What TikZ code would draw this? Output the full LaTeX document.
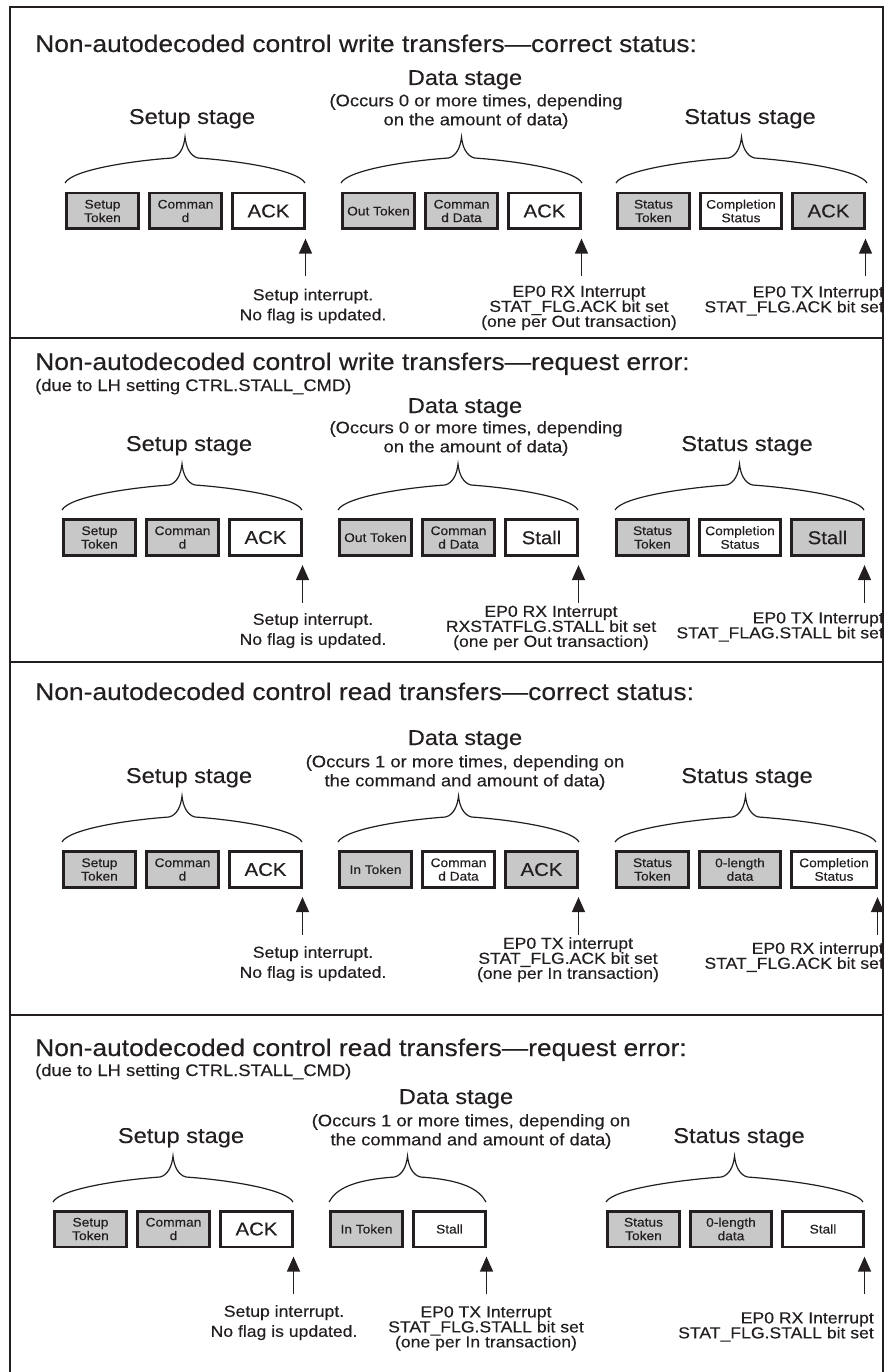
\documentclass[tikz,border=0pt]{standalone}
\usepackage{fontspec}
\setmainfont{Liberation Sans}[FakeStretch=1.1,FakeBold=0.3]
\usetikzlibrary{calc,positioning,arrows.meta}
\definecolor{ink}{RGB}{35,31,32}
\definecolor{boxgray}{RGB}{200,200,200}
\newcommand{\setfs}[2]{\fontsize{#1pt}{#2pt}\selectfont}
% curly bracket over one stage: left x, right x, y of the ends
\newcommand{\stagebrace}[3]{%
  \pgfmathsetmacro{\bcx}{(#1+#2)/2}%
  \path[brc] (#1,#3) .. controls (#1+7,#3-13) and (\bcx-55,#3-22) .. (\bcx-13,#3-25)
    .. controls (\bcx-5,#3-27) and (\bcx-1,#3-36) .. (\bcx,#3-46)
    .. controls (\bcx+1,#3-36) and (\bcx+5,#3-27) .. (\bcx+13,#3-25)
    .. controls (\bcx+55,#3-22) and (#2-7,#3-13) .. (#2,#3);}

\begin{document}
\begin{tikzpicture}[x=1pt,y=-1pt,
    every node/.style={text=ink,inner sep=0pt},
    ttl/.style={anchor=base west,font=\setfs{24}{26}},
    sub/.style={anchor=base west,font=\setfs{16.7}{19}},
    stage/.style={anchor=base,font=\setfs{21.5}{24}},
    occ/.style={anchor=north,align=center,font=\setfs{16.7}{19}},
    lab/.style={anchor=north,align=center,font=\setfs{16}{15}},
    labs/.style={lab,font=\setfs{16}{20}},
    labr/.style={anchor=north east,align=right,font=\setfs{16}{15}},
    box/.style={draw=ink,line width=2.6pt,minimum width=72.4pt,minimum height=35.6pt,
      inner sep=1pt,align=center,font=\setfs{12.5}{13.5}},
    gbox/.style={box,fill=boxgray},
    wbox/.style={box,fill=white},
    wide/.style={minimum width=81.4pt},
    big/.style={font=\setfs{18.5}{19}},
    brc/.style={draw=ink,line width=1.2pt},
    arr/.style={draw=ink,line width=1.5pt,-{Triangle[width=13pt,length=15pt]},shorten >=8.5pt},
    frame/.style={draw=ink,line width=2.8pt}]

\useasboundingbox (0,0) rectangle (886,1372);

\begin{scope}
\clip (10,7) rectangle (883,1372);

%% write transfers, correct status
\node[ttl] (p1t) at (35,52) {Non-autodecoded control write transfers—correct status:};
\node[stage] (p1s) at (192,124) {Setup stage};
\node[stage] (p1d) at (465,85) {Data stage};
\node[occ] (p1o) at (476,94) {(Occurs 0 or more times, depending\\on the amount of data)};
\node[stage] (p1z) at (750,124) {Status stage};
\stagebrace{65}{305}{183}
\stagebrace{341}{582}{183}
\stagebrace{616}{867}{183}
\node[gbox,anchor=west] (p1n1) at (65,211) {Setup\\Token};
\node[gbox,right=8pt of p1n1] (p1n2) {Comman\\d};
\node[wbox,big,right=8pt of p1n2] (p1n3) {ACK};
\node[gbox,anchor=west] (p1n4) at (341,211) {Out Token};
\node[gbox,right=8pt of p1n4] (p1n5) {Comman\\d Data};
\node[wbox,big,right=8pt of p1n5] (p1n6) {ACK};
\node[gbox,anchor=west] (p1n7) at (616,211) {Status\\Token};
\node[wbox,wide,right=8pt of p1n7] (p1n8) {Completion\\Status};
\node[gbox,big,right=8pt of p1n8] (p1n9) {ACK};
\node[labs] (p1l1) at (313,288.5) {Setup interrupt.\\No flag is updated.};
\node[lab] (p1l2) at (579,285.5) {EP0 RX Interrupt\\STAT\_FLG.ACK bit set\\(one per Out transaction)};
\node[labr] (p1l3) at (884,286) {EP0 TX Interrupt\\STAT\_FLG.ACK bit set};

%% write transfers, request error
\node[ttl] (p2t) at (35,370) {Non-autodecoded control write transfers—request error:};
\node[sub] (p2u) at (35,391) {(due to LH setting CTRL.STALL\_CMD)};
\node[stage] (p2s) at (189,451) {Setup stage};
\node[stage] (p2d) at (465,413) {Data stage};
\node[occ] (p2o) at (476,421) {(Occurs 0 or more times, depending\\on the amount of data)};
\node[stage] (p2z) at (747,451) {Status stage};
\stagebrace{62}{302}{510}
\stagebrace{338}{578}{510}
\stagebrace{615}{864}{510}
\node[gbox,anchor=west] (p2n1) at (62,537.5) {Setup\\Token};
\node[gbox,right=8pt of p2n1] (p2n2) {Comman\\d};
\node[wbox,big,right=8pt of p2n2] (p2n3) {ACK};
\node[gbox,anchor=west] (p2n4) at (338,537.5) {Out Token};
\node[gbox,right=8pt of p2n4] (p2n5) {Comman\\d Data};
\node[wbox,big,right=8pt of p2n5] (p2n6) {Stall};
\node[gbox,anchor=west] (p2n7) at (615,537.5) {Status\\Token};
\node[wbox,wide,right=8pt of p2n7] (p2n8) {Completion\\Status};
\node[gbox,big,right=8pt of p2n8] (p2n9) {Stall};
\node[labs] (p2l1) at (313,613) {Setup interrupt.\\No flag is updated.};
\node[lab] (p2l2) at (551,605.5) {EP0 RX Interrupt\\RXSTATFLG.STALL bit set\\(one per Out transaction)};
\node[labr] (p2l3) at (884,612) {EP0 TX Interrupt\\STAT\_FLAG.STALL bit set};

%% read transfers, correct status
\node[ttl] (p3t) at (35,700) {Non-autodecoded control read transfers—correct status:};
\node[stage] (p3s) at (189,783) {Setup stage};
\node[stage] (p3d) at (465,745) {Data stage};
\node[occ] (p3o) at (465,755) {(Occurs 1 or more times, depending on\\the command and amount of data)};
\node[stage] (p3z) at (747,783) {Status stage};
\stagebrace{62}{302}{842}
\stagebrace{338}{579}{842}
\stagebrace{615}{876}{842}
\node[gbox,anchor=west] (p3n1) at (62,869.5) {Setup\\Token};
\node[gbox,right=8pt of p3n1] (p3n2) {Comman\\d};
\node[wbox,big,right=8pt of p3n2] (p3n3) {ACK};
\node[gbox,anchor=west] (p3n4) at (338,869.5) {In Token};
\node[wbox,right=8pt of p3n4] (p3n5) {Comman\\d Data};
\node[gbox,big,right=8pt of p3n5] (p3n6) {ACK};
\node[gbox,anchor=west] (p3n7) at (615,869.5) {Status\\Token};
\node[gbox,wide,right=8pt of p3n7] (p3n8) {0-length\\data};
\node[wbox,minimum width=85.4pt,right=8pt of p3n8] (p3n9) {Completion\\Status};
\node[labs] (p3l1) at (313,946) {Setup interrupt.\\No flag is updated.};
\node[lab] (p3l2) at (568,937) {EP0 TX interrupt\\STAT\_FLG.ACK bit set\\(one per In transaction)};
\node[labr] (p3l3) at (884,942) {EP0 RX interrupt\\STAT\_FLG.ACK bit set};

%% read transfers, request error
\node[ttl] (p4t) at (35,1056) {Non-autodecoded control read transfers—request error:};
\node[sub] (p4u) at (35,1076) {(due to LH setting CTRL.STALL\_CMD)};
\node[stage] (p4s) at (181,1143) {Setup stage};
\node[stage] (p4d) at (456,1104) {Data stage};
\node[occ] (p4o) at (471,1114) {(Occurs 1 or more times, depending on\\the command and amount of data)};
\node[stage] (p4z) at (739,1143) {Status stage};
\stagebrace{53}{293}{1202}
\stagebrace{329}{486}{1202}
\stagebrace{606}{863}{1202}
\node[gbox,anchor=west] (p4n1) at (53,1229) {Setup\\Token};
\node[gbox,right=8pt of p4n1] (p4n2) {Comman\\d};
\node[wbox,big,right=8pt of p4n2] (p4n3) {ACK};
\node[gbox,anchor=west] (p4n4) at (329,1229) {In Token};
\node[wbox,right=8pt of p4n4] (p4n6) {Stall};
\node[gbox,anchor=west] (p4n7) at (606,1229) {Status\\Token};
\node[gbox,wide,right=8pt of p4n7] (p4n8) {0-length\\data};
\node[wbox,wide,right=8pt of p4n8] (p4n9) {Stall};
\node[labs] (p4l1) at (284,1305) {Setup interrupt.\\No flag is updated.};
\node[lab] (p4l2) at (486,1306) {EP0 TX Interrupt\\STAT\_FLG.STALL bit set\\(one per In transaction)};
\node[labr] (p4l3) at (874,1312) {EP0 RX Interrupt\\STAT\_FLG.STALL bit set};

%% interrupt arrows
\foreach \b in {p1n3,p1n6,p1n9,p2n3,p2n6,p2n9,p3n3,p3n6,p3n9,p4n3,p4n6,p4n9}{
  \coordinate (\b q) at ($(\b.south east)+(-0.5,46)$);
  \path[arr] (\b q) -- (\b q |- \b.south);
}
\end{scope}

%% frame
\path[frame] (10,7) rectangle (883,1380);
\path[frame] (10,338) -- (883,338);
\path[frame] (10,662) -- (883,662);
\path[frame] (10,1015) -- (883,1015);
\end{tikzpicture}
\end{document}
